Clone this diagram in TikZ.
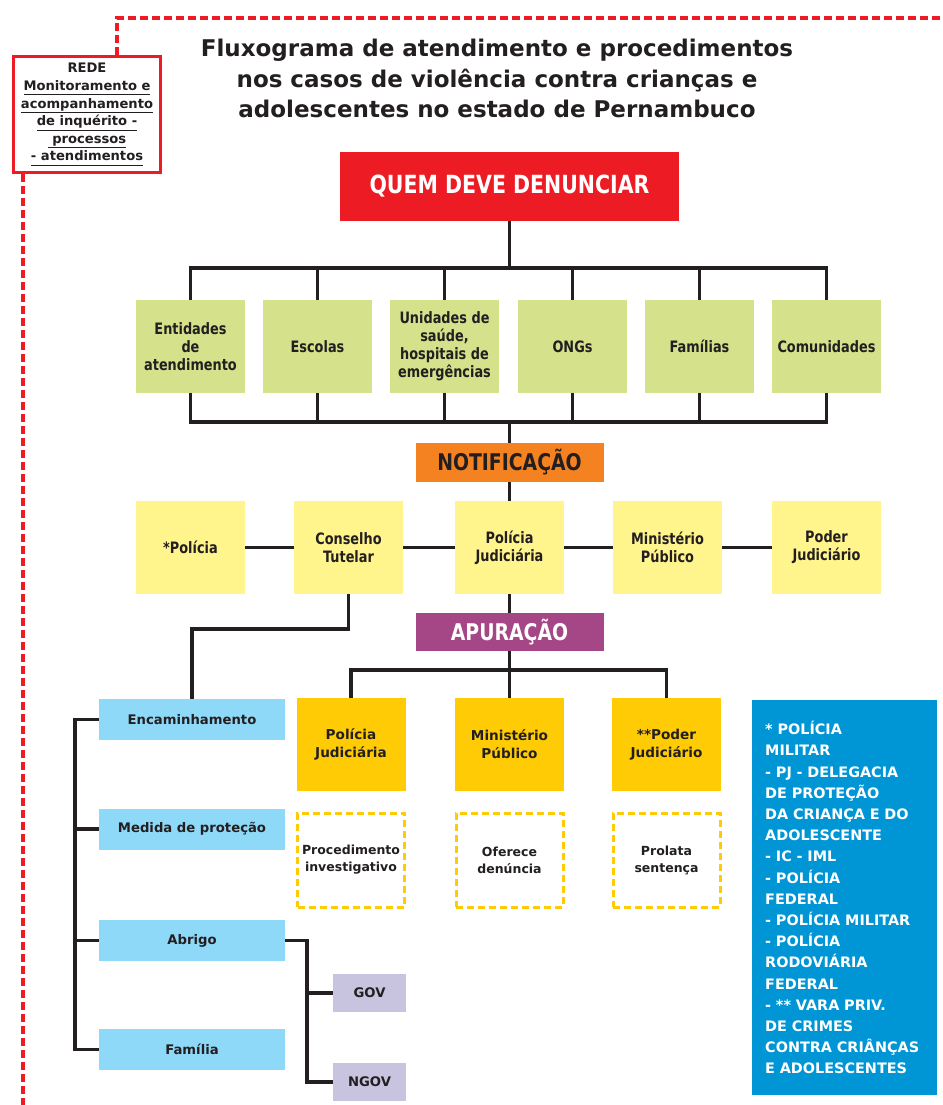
\documentclass[tikz,border=0pt]{standalone}
\usepackage{fontspec}
\setmainfont{DejaVu Sans}
\newfontfamily\narrowfont{DejaVu Sans}[FakeStretch=0.82]
\usetikzlibrary{positioning}

\definecolor{ink}{HTML}{231F20}
\definecolor{alarmred}{HTML}{ED1C24}
\definecolor{notiforange}{HTML}{F58220}
\definecolor{apurpurple}{HTML}{A54686}
\definecolor{sourcegreen}{HTML}{D5E28B}
\definecolor{paleyellow}{HTML}{FFF58C}
\definecolor{gold}{HTML}{FFCB05}
\definecolor{skyblue}{HTML}{8ED8F8}
\definecolor{lavender}{HTML}{C8C4E0}
\definecolor{infoblue}{HTML}{0096D6}

\newcommand{\redeline}[1]{\underline{#1\vphantom{g}}}

\begin{document}
\begin{tikzpicture}[x=1pt,y=-1pt]
  \tikzset{vertex/.style = {shape=rectangle, inner sep=0pt, align=center, text=ink}}
  \tikzset{edge/.style = {draw=ink, line width=3.5pt}}
  \tikzset{net/.style = {draw=alarmred, line width=3.5pt, dash pattern=on 8pt off 4pt}}
  \tikzset{sourcebox/.style = {vertex, fill=sourcegreen, minimum width=109pt, minimum height=93pt,
      font=\narrowfont\bfseries\fontsize{15.7}{18}\selectfont}}
  \tikzset{agentbox/.style = {sourcebox, fill=paleyellow}}
  \tikzset{phasebox/.style = {vertex, minimum width=188pt, minimum height=39pt,
      font=\narrowfont\bfseries\fontsize{23}{27}\selectfont}}
  \tikzset{stagebox/.style = {vertex, fill=gold, minimum width=109pt, minimum height=93pt,
      font=\bfseries\fontsize{13.6}{18}\selectfont}}
  \tikzset{actbox/.style = {vertex, draw=gold, line width=3pt, dash pattern=on 7pt off 4pt,
      minimum width=107pt, minimum height=94pt, font=\bfseries\fontsize{12.5}{17}\selectfont}}
  \tikzset{carebox/.style = {vertex, fill=skyblue, minimum width=186pt, minimum height=41pt,
      font=\bfseries\fontsize{13.2}{16}\selectfont}}
  \tikzset{shelterbox/.style = {vertex, fill=lavender, minimum width=73pt, minimum height=38pt,
      font=\bfseries\fontsize{13.2}{16}\selectfont}}

  \useasboundingbox (0,0) rectangle (942,1105);
  \fill[white] (0,0) rectangle (942,1105);

  % title and network box
  \node[vertex, font=\bfseries\fontsize{23}{30.5}\selectfont] (title) at (497,78.5)
  {Fluxograma de atendimento e procedimentos\\nos casos de violência contra crianças e\\adolescentes no estado de Pernambuco};

  \node[vertex, draw=alarmred, line width=3pt, fill=white, minimum width=147pt, minimum height=116pt,
    font=\bfseries\fontsize{13.1}{17.6}\selectfont] (rede) at (87,114.5)
  {REDE\\\redeline{Monitoramento e}\\\redeline{acompanhamento}\\\redeline{de inquérito -}\\\redeline{\ processos}\\\redeline{- atendimentos}};

  \coordinate (netcorner) at (117,18);
  \coordinate (netend) at (942,18);
  \coordinate (netfoot) at (23,1105);
  \draw[net] (rede.north -| netcorner) -- (netcorner) -- (netend);
  \draw[net] (rede.south -| netfoot) -- (netfoot);

  % who reports
  \node[vertex, fill=alarmred, text=white, minimum width=339pt, minimum height=69pt,
    font=\narrowfont\bfseries\fontsize{25}{30}\selectfont] (quem) at (509.5,186.5) {QUEM DEVE DENUNCIAR};

  \node[sourcebox] (ent) at (190.5,346.5) {Entidades\\de\\atendimento};
  \node[sourcebox] (esc) at (317.5,346.5) {Escolas};
  \node[sourcebox] (uni) at (444.5,346.5) {Unidades de\\saúde,\\hospitais de\\emergências};
  \node[sourcebox] (ong) at (572.5,346.5) {ONGs};
  \node[sourcebox] (fam) at (699.5,346.5) {Famílias};
  \node[sourcebox] (com) at (826.5,346.5) {Comunidades};

  \coordinate (topbus) at (509.5,268);
  \coordinate (botbus) at (509.5,422);

  \draw[edge] (quem.south) -- (topbus);
  \draw[edge] (ent.north) |- (topbus) -| (com.north);
  \draw[edge] (ent.south) |- (botbus) -| (com.south);
  \foreach \n in {esc,uni,ong,fam} {
    \draw[edge] (\n.north) -- (\n.north |- topbus);
    \draw[edge] (\n.south) -- (\n.south |- botbus);
  }

  % notification
  \node[phasebox, fill=notiforange] (notif) at (509.5,462.5) {NOTIFICAÇÃO};
  \draw[edge] (botbus) -- (notif.north);

  \node[agentbox] (pol)  at (190.5,547.5) {*Polícia};
  \node[agentbox] (cons) at (348.5,547.5) {Conselho\\Tutelar};
  \node[agentbox] (polj) at (509.5,547.5) {Polícia\\Judiciária};
  \node[agentbox] (min)  at (667.5,547.5) {Ministério\\Público};
  \node[agentbox] (pod)  at (826.5,547.5) {Poder\\Judiciário};

  \draw[edge] (notif.south) -- (polj.north);
  \draw[edge] (pol) -- (cons);
  \draw[edge] (cons) -- (polj);
  \draw[edge] (polj) -- (min);
  \draw[edge] (min) -- (pod);

  % investigation
  \node[phasebox, fill=apurpurple, text=white, minimum height=38pt] (apur) at (509.5,632) {APURAÇÃO};
  \draw[edge] (polj.south) -- (apur.north);

  \node[stagebox] (gpol) at (351,744.5)   {Polícia\\Judiciária};
  \node[stagebox] (gmin) at (509.5,744.5) {Ministério\\Público};
  \node[stagebox] (gpod) at (666.5,744.5) {**Poder\\Judiciário};

  \coordinate (apbus) at (509.5,670);
  \draw[edge] (apur.south) -- (gmin.north);
  \draw[edge] (gpol.north) |- (apbus) -| (gpod.north);

  \node[actbox] (proc) at (351,860)   {Procedimento\\investigativo};
  \node[actbox] (ofer) at (509.5,860) {Oferece\\denúncia};
  \node[actbox] (prol) at (666.5,860) {Prolata\\sentença};

  % protection measures
  \node[carebox] (enc)  at (192,719.5)  {Encaminhamento};
  \node[carebox] (med)  at (192,829)    {Medida de proteção};
  \node[carebox] (abr)  at (192,940.5)  {Abrigo};
  \node[carebox] (fami) at (192,1049.5) {Família};

  \draw[edge] (cons.south) -- ++(0,35) -| (enc.north);
  \draw[edge] (enc.west) -- ++(-24,0) |- (fami.west);
  \draw[edge] (med.west) -- ++(-24,0);
  \draw[edge] (abr.west) -- ++(-24,0);

  \node[shelterbox] (gov)  at (369.5,993)  {GOV};
  \node[shelterbox] (ngov) at (369.5,1082) {NGOV};

  \draw[edge] (abr.east) -- ++(22,0) |- (ngov.west);
  \draw[edge] (gov.west) -- ++(-26,0);

  % legend
  \node[vertex, fill=infoblue, text=white, align=left, anchor=north west, minimum width=185pt,
    minimum height=395pt, text width=159pt, inner xsep=13pt,
    font=\bfseries\fontsize{14.4}{21.2}\selectfont] (legend) at (752,700)
  {* POLÍCIA\\MILITAR\\- PJ - DELEGACIA\\DE PROTEÇÃO\\DA CRIANÇA E DO\\ADOLESCENTE\\- IC - IML\\- POLÍCIA\\FEDERAL\\- POLÍCIA MILITAR\\- POLÍCIA\\RODOVIÁRIA\\FEDERAL\\- ** VARA PRIV.\\DE CRIMES\\CONTRA CRIÂNÇAS\\E ADOLESCENTES};
\end{tikzpicture}
\end{document}
